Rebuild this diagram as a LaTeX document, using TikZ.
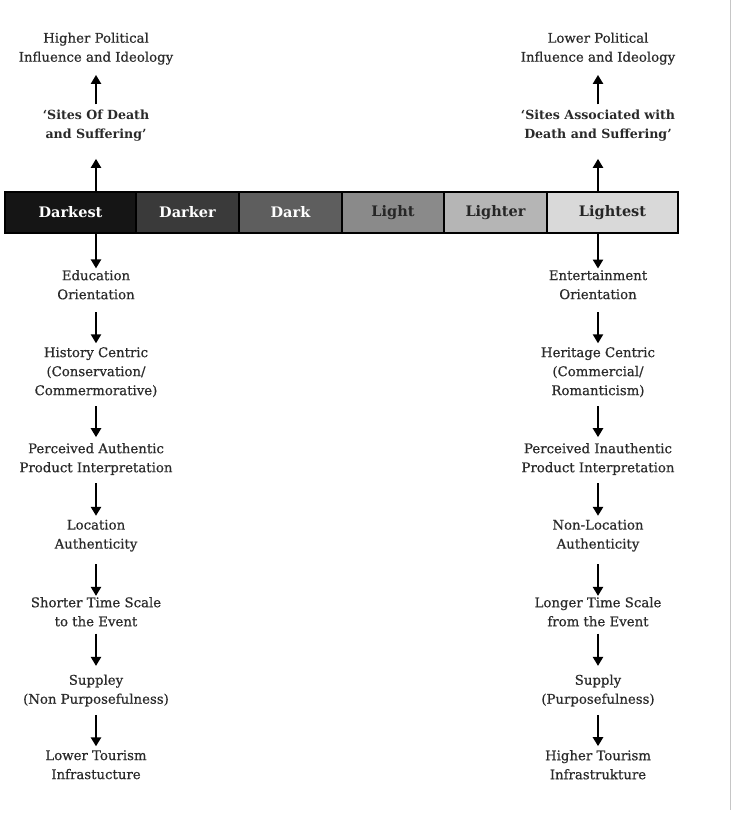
\documentclass[tikz,border=0pt]{standalone}
\usepackage{fontspec}
\setmainfont{DejaVu Serif}
\newfontfamily\medserif[FakeBold=0.6]{DejaVu Serif}
\usetikzlibrary{arrows.meta}
\definecolor{txt}{HTML}{2A2A2A}
\definecolor{c1}{HTML}{151515}
\definecolor{c2}{HTML}{3A3A3A}
\definecolor{c3}{HTML}{5E5E5E}
\definecolor{c4}{HTML}{8A8A8A}
\definecolor{c5}{HTML}{B5B5B5}
\definecolor{c6}{HTML}{D9D9D9}
\begin{document}
\begin{tikzpicture}[x=1pt,y=-1pt,
  lbl/.style={align=center, inner sep=0pt, text=txt, font=\medserif\fontsize{13.3}{19}\selectfont, execute at begin node=\strut, execute at end node=\strut},
  ttl/.style={lbl, font=\bfseries\fontsize{12.6}{19}\selectfont},
  seg/.style={draw=black, line width=1.2pt, minimum height=41pt, inner sep=0pt, font=\bfseries\fontsize{14.5}{16}\selectfont},
  arr/.style={line width=2.4pt, -{Triangle[width=10pt,length=9pt]}, draw=black}
]
\useasboundingbox (0,0) rectangle (732,817);
\draw[gray!45, line width=1pt] (730,0) -- (730,810);

% bar
\node[seg, fill=c1, text=white, minimum width=131pt] (d1) at (70.5,212.5) {Darkest};
\node[seg, fill=c2, text=white, minimum width=103pt] (d2) at (187.5,212.5) {Darker};
\node[seg, fill=c3, text=white, minimum width=103pt] (d3) at (290.5,212.5) {Dark};
\node[seg, fill=c4, text=black!85, minimum width=102pt] (d4) at (393,212.5) {Light};
\node[seg, fill=c5, text=black!85, minimum width=103pt] (d5) at (495.5,212.5) {Lighter};
\node[seg, fill=c6, text=black!85, minimum width=131pt] (d6) at (612.5,212.5) {Lightest};

% left top
\node[lbl] (hL) at (96,50) {Higher Political\\Influence and Ideology};
\node[ttl] (sL) at (96,127.5) {‘Sites Of Death\\and Suffering’};
% right top
\node[lbl] (hR) at (598,50) {Lower Political\\Influence and Ideology};
\node[ttl] (sR) at (598,127.5) {‘Sites Associated with\\Death and Suffering’};

% left column
\node[lbl] (l1) at (96,287.5) {Education\\Orientation};
\node[lbl] (l2) at (96,374) {History Centric\\(Conservation/\\Commermorative)};
\node[lbl] (l3) at (96,460.5) {Perceived Authentic\\Product Interpretation};
\node[lbl] (l4) at (96,537) {Location\\Authenticity};
\node[lbl] (l5) at (96,614.5) {Shorter Time Scale\\to the Event};
\node[lbl] (l6) at (96,692) {Suppley\\(Non Purposefulness)};
\node[lbl] (l7) at (96,767.5) {Lower Tourism\\Infrastucture};

% right column
\node[lbl] (r1) at (598,287.5) {Entertainment\\Orientation};
\node[lbl] (r2) at (598,374) {Heritage Centric\\(Commercial/\\Romanticism)};
\node[lbl] (r3) at (598,460.5) {Perceived Inauthentic\\Product Interpretation};
\node[lbl] (r4) at (598,537) {Non-Location\\Authenticity};
\node[lbl] (r5) at (598,614.5) {Longer Time Scale\\from the Event};
\node[lbl] (r6) at (598,692) {Supply\\(Purposefulness)};
\node[lbl] (r7) at (598,767.5) {Higher Tourism\\Infrastrukture};

% arrows up
\draw[arr, shorten >=14pt] (d1.north -| sL.south) -- (sL.south);
\draw[arr, shorten <=5.7pt, shorten >=7.3pt] (sL.north) -- (hL.south);
\draw[arr, shorten >=14pt] (d6.north -| sR.south) -- (sR.south);
\draw[arr, shorten <=5.7pt, shorten >=7.3pt] (sR.north) -- (hR.south);

% arrows down
\draw[arr, shorten >=1.5pt] (d1.south -| l1.north) -- (l1.north);
\draw[arr, shorten <=7.3pt, shorten >=3.7pt] (l1.south) -- (l2.north);
\draw[arr, shorten <=5.3pt, shorten >=5.7pt] (l2.south) -- (l3.north);
\draw[arr, shorten <=5.3pt, shorten >=3.7pt] (l3.south) -- (l4.north);
\draw[arr, shorten <=10pt, shorten >=1pt] (l4.south) -- (l5.north);
\draw[arr, shorten <=1.5pt, shorten >=8.5pt] (l5.south) -- (l6.north);
\draw[arr, shorten <=5.3pt, shorten >=3.7pt] (l6.south) -- (l7.north);

\draw[arr, shorten >=1.5pt] (d6.south -| r1.north) -- (r1.north);
\draw[arr, shorten <=7.3pt, shorten >=3.7pt] (r1.south) -- (r2.north);
\draw[arr, shorten <=5.3pt, shorten >=5.7pt] (r2.south) -- (r3.north);
\draw[arr, shorten <=5.3pt, shorten >=3.7pt] (r3.south) -- (r4.north);
\draw[arr, shorten <=10pt, shorten >=1pt] (r4.south) -- (r5.north);
\draw[arr, shorten <=1.5pt, shorten >=8.5pt] (r5.south) -- (r6.north);
\draw[arr, shorten <=5.3pt, shorten >=3.7pt] (r6.south) -- (r7.north);
\end{tikzpicture}
\end{document}
